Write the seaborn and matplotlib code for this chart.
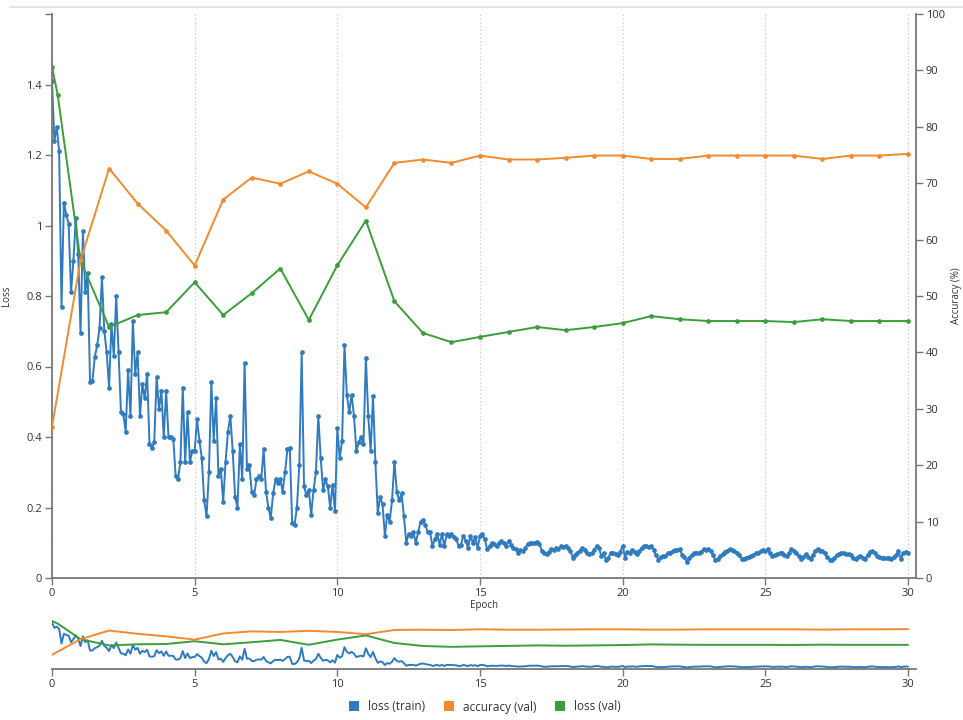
import numpy as np
import pandas as pd
import matplotlib
matplotlib.use("Agg")
import matplotlib.pyplot as plt
from matplotlib.lines import Line2D
from matplotlib.ticker import FuncFormatter, FixedLocator
import seaborn as sns

# ---- data -------------------------------------------------------------
steps_per_epoch = 12

# training loss, logged 12 times per epoch (one row per epoch)
train_loss = [
    1.41, 1.24, 1.28, 1.21, 0.77, 1.065, 1.03, 1.005, 0.81, 0.90, 1.02, 0.92,
    0.695, 0.985, 0.81, 0.865, 0.556, 0.56, 0.627, 0.66, 0.71, 0.853, 0.70, 0.64,
    0.54, 0.72, 0.63, 0.80, 0.64, 0.47, 0.465, 0.415, 0.59, 0.46, 0.73, 0.58,
    0.64, 0.46, 0.55, 0.51, 0.58, 0.38, 0.37, 0.385, 0.57, 0.48, 0.53, 0.40,
    0.53, 0.40, 0.40, 0.395, 0.29, 0.28, 0.33, 0.54, 0.33, 0.47, 0.33, 0.36,
    0.36, 0.45, 0.39, 0.34, 0.22, 0.175, 0.30, 0.555, 0.39, 0.51, 0.29, 0.31,
    0.215, 0.33, 0.415, 0.46, 0.36, 0.23, 0.20, 0.38, 0.28, 0.61, 0.31, 0.32,
    0.245, 0.235, 0.28, 0.29, 0.28, 0.365, 0.245, 0.20, 0.17, 0.24, 0.28, 0.27,
    0.28, 0.245, 0.30, 0.365, 0.37, 0.155, 0.15, 0.20, 0.32, 0.64, 0.26, 0.235,
    0.25, 0.18, 0.25, 0.30, 0.46, 0.34, 0.25, 0.28, 0.26, 0.20, 0.265, 0.19,
    0.425, 0.34, 0.39, 0.66, 0.52, 0.47, 0.52, 0.46, 0.36, 0.385, 0.40, 0.38,
    0.625, 0.46, 0.36, 0.515, 0.33, 0.185, 0.23, 0.21, 0.12, 0.18, 0.16, 0.22,
    0.33, 0.245, 0.22, 0.24, 0.175, 0.10, 0.125, 0.12, 0.13, 0.10, 0.13, 0.16,
    0.165, 0.15, 0.13, 0.13, 0.09, 0.11, 0.125, 0.095, 0.125, 0.09, 0.125, 0.12,
    0.125, 0.115, 0.11, 0.09, 0.095, 0.12, 0.105, 0.085, 0.12, 0.10, 0.115, 0.085,
    0.12, 0.124, 0.11, 0.082, 0.09, 0.10, 0.096, 0.091, 0.10, 0.105, 0.10, 0.09,
    0.105, 0.095, 0.085, 0.082, 0.072, 0.08, 0.076, 0.085, 0.096, 0.10, 0.098, 0.10,
    0.101, 0.096, 0.077, 0.07, 0.068, 0.075, 0.082, 0.08, 0.086, 0.082, 0.09, 0.088,
    0.091, 0.085, 0.077, 0.058, 0.065, 0.072, 0.078, 0.085, 0.08, 0.07, 0.068, 0.07,
    0.08, 0.091, 0.085, 0.063, 0.07, 0.05, 0.058, 0.072, 0.07, 0.068, 0.065, 0.075,
    0.092, 0.058, 0.075, 0.072, 0.08, 0.075, 0.068, 0.078, 0.085, 0.09, 0.092, 0.088,
    0.092, 0.08, 0.065, 0.052, 0.06, 0.062, 0.062, 0.07, 0.072, 0.077, 0.08, 0.08,
    0.082, 0.065, 0.06, 0.045, 0.058, 0.065, 0.07, 0.072, 0.072, 0.075, 0.082, 0.08,
    0.082, 0.078, 0.065, 0.05, 0.055, 0.062, 0.068, 0.075, 0.078, 0.082, 0.08, 0.077,
    0.072, 0.065, 0.055, 0.054, 0.058, 0.06, 0.063, 0.065, 0.07, 0.072, 0.077, 0.08,
    0.077, 0.082, 0.07, 0.063, 0.065, 0.068, 0.07, 0.072, 0.065, 0.062, 0.07, 0.082,
    0.078, 0.072, 0.062, 0.054, 0.06, 0.068, 0.06, 0.054, 0.066, 0.077, 0.082, 0.078,
    0.077, 0.07, 0.06, 0.052, 0.05, 0.058, 0.064, 0.068, 0.072, 0.07, 0.068, 0.068,
    0.065, 0.056, 0.054, 0.06, 0.063, 0.056, 0.054, 0.065, 0.075, 0.077, 0.07, 0.062,
    0.06, 0.058, 0.058, 0.056, 0.056, 0.054, 0.06, 0.065, 0.077, 0.054, 0.07, 0.075,
    0.072,
]
train_epoch = np.arange(len(train_loss)) / steps_per_epoch

# validation accuracy (%), once per epoch
acc_epoch = list(range(31))
val_acc = [26.8, 56.3, 72.6, 66.4, 61.6, 55.4, 67.1, 71.0, 69.9, 72.1, 69.9,
           65.7, 73.6, 74.2, 73.6, 74.9, 74.2, 74.2, 74.5, 74.9, 74.9,
           74.3, 74.3, 74.9, 74.9, 74.9, 74.9, 74.3, 74.9, 74.9, 75.2]

# validation loss
val_loss_epoch = [0, 0.2] + list(range(1, 31))
val_loss = [1.45, 1.37, 0.90, 0.712, 0.746, 0.754, 0.839, 0.746, 0.808, 0.878,
            0.732, 0.887, 1.014, 0.785, 0.695, 0.669, 0.684, 0.698, 0.712,
            0.703, 0.712, 0.723, 0.743, 0.734, 0.729, 0.729, 0.729, 0.726,
            0.734, 0.729, 0.729, 0.729]

x_ticks = [0, 5, 10, 15, 20, 25, 30]
loss_ticks = [0, 0.2, 0.4, 0.6, 0.8, 1.0, 1.2, 1.4]
acc_ticks = list(range(0, 101, 10))
series_names = ["loss (train)", "accuracy (val)", "loss (val)"]

# ---- style ------------------------------------------------------------
sns.set_style("white")
plt.rcParams["font.family"] = ["Open Sans", "DejaVu Sans"]

C_TRAIN = "#2f7bbf"
C_ACC = "#f28a2e"
C_VAL = "#3a9e3a"
AXIS_C = "#777777"
TEXT_C = "#333333"

df_train = pd.DataFrame({"epoch": train_epoch, "loss": train_loss})
df_acc = pd.DataFrame({"epoch": acc_epoch, "acc": val_acc})
df_val = pd.DataFrame({"epoch": val_loss_epoch, "loss": val_loss})

W, H = 963, 720
fig = plt.figure(figsize=(W / 100, H / 100), dpi=100)

X_MAX = 30.28  # right axis sits slightly past the last epoch
L, R = 52 / W, 916 / W

ax = fig.add_axes([L, 1 - 578 / H, R - L, (578 - 14) / H])
ax2 = ax.twinx()

line_kw = dict(marker="o", markersize=3.4, markeredgewidth=0, linewidth=1.4)
sns.lineplot(data=df_train, x="epoch", y="loss", ax=ax, color=C_TRAIN, **line_kw)
sns.lineplot(data=df_val, x="epoch", y="loss", ax=ax, color=C_VAL, **line_kw)
sns.lineplot(data=df_acc, x="epoch", y="acc", ax=ax2, color=C_ACC, **line_kw)

for a in (ax, ax2):
    a.set_xlim(0, X_MAX)
ax.set_ylim(0, 1.6)
ax2.set_ylim(0, 100)

ax.set_xticks(x_ticks)
ax.set_yticks(loss_ticks)
ax.yaxis.set_major_formatter(FuncFormatter(lambda v, p: f"{v:g}"))
ax.yaxis.set_minor_locator(FixedLocator([1.6]))
ax2.set_yticks(acc_ticks)

ax.xaxis.grid(True, linestyle=(0, (1, 2)), color="#c8c8c8", linewidth=0.9)
ax.yaxis.grid(False)
ax2.grid(False)

for a in (ax, ax2):
    for s in a.spines.values():
        s.set_visible(False)
ax.spines["left"].set_visible(True)
ax.spines["bottom"].set_visible(True)
ax2.spines["right"].set_visible(True)
for s in (ax.spines["left"], ax.spines["bottom"], ax2.spines["right"]):
    s.set_color(AXIS_C)
    s.set_linewidth(1.3)

ax.tick_params(axis="both", which="both", direction="out", length=5, width=1,
               color=AXIS_C, labelsize=8, labelcolor=TEXT_C, pad=2,
               left=True, bottom=True)
ax2.tick_params(axis="y", direction="out", length=5, width=1, color=AXIS_C,
                labelsize=8, labelcolor=TEXT_C, pad=2, right=True)

ax.set_xlabel("Epoch", fontsize=7, color=TEXT_C, labelpad=1)
ax.set_ylabel("Loss", fontsize=7, color=TEXT_C)
ax2.set_ylabel("Accuracy (%)", fontsize=7, color=TEXT_C)
ax.yaxis.set_label_coords(-0.046, 0.5)
ax2.yaxis.set_label_coords(1.040, 0.5)

# ---- overview strip ---------------------------------------------------
ov = fig.add_axes([L, 1 - 669 / H, R - L, (669 - 616) / H])
ov2 = ov.twinx()
thin_kw = dict(linewidth=1.4)
sns.lineplot(data=df_train, x="epoch", y="loss", ax=ov, color=C_TRAIN, **thin_kw)
sns.lineplot(data=df_val, x="epoch", y="loss", ax=ov, color=C_VAL, **thin_kw)
sns.lineplot(data=df_acc, x="epoch", y="acc", ax=ov2, color=C_ACC, **thin_kw)
for a in (ov, ov2):
    a.set_xlim(0, X_MAX)
    for s in a.spines.values():
        s.set_visible(False)
    a.set_yticks([])
    a.set_ylabel("")
    a.set_xlabel("")
ov.set_ylim(0, 1.6)
ov2.set_ylim(0, 100)
ov.spines["bottom"].set_visible(True)
ov.spines["bottom"].set_color(AXIS_C)
ov.spines["bottom"].set_linewidth(1.3)
ov.set_xticks(x_ticks)
ov.tick_params(axis="x", direction="out", length=5, width=1, color=AXIS_C,
               labelsize=8, labelcolor=TEXT_C, pad=2, bottom=True)

# ---- legend -----------------------------------------------------------
handles = [Line2D([], [], marker="s", linestyle="none", markersize=7,
                  markeredgewidth=0, color=c) for c in (C_TRAIN, C_ACC, C_VAL)]
fig.legend(handles, series_names, loc="center", bbox_to_anchor=(0.5, 1 - 707 / H),
           ncol=3, frameon=False, fontsize=8.5, handletextpad=0.2,
           columnspacing=1.0, labelcolor=TEXT_C)

# thin frame line along the top edge
fig.add_artist(Line2D([10 / W, 1], [1 - 7 / H, 1 - 7 / H], color="#e4e4e4",
                      linewidth=1.5, transform=fig.transFigure))

fig.savefig("out.png", dpi=100, facecolor="white")
